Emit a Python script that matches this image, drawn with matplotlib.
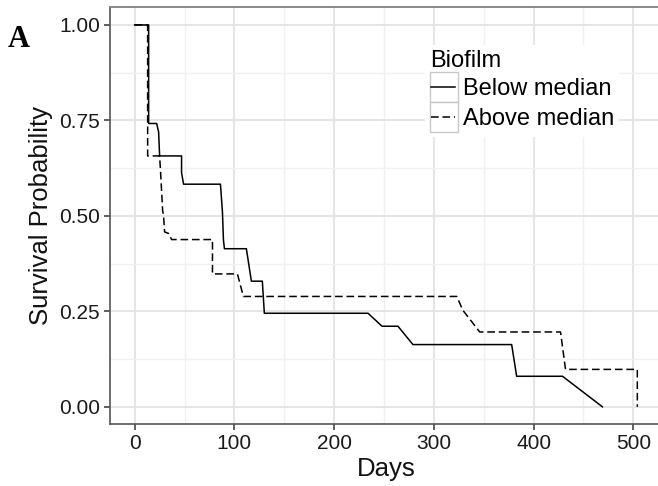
import numpy as np
import matplotlib
matplotlib.use('Agg')
import matplotlib.pyplot as plt
from matplotlib.legend_handler import HandlerBase
from matplotlib.patches import Rectangle
from matplotlib.lines import Line2D

# survival curves, vertices (days, probability)
below_days = [0, 14, 14, 22, 24, 25, 47, 47, 49, 86, 88, 89, 90, 112, 117,
              128, 130, 234, 248, 264, 279, 378, 383, 429, 469]
below_surv = [1.0, 1.0, 0.742, 0.742, 0.72, 0.657, 0.657, 0.613, 0.583, 0.583,
              0.51, 0.437, 0.414, 0.414, 0.329, 0.329, 0.245, 0.245, 0.211,
              0.211, 0.163, 0.163, 0.080, 0.080, 0.0]

above_days = [0, 13, 13, 25, 26, 28, 29, 30, 34, 37, 78, 78, 103, 109, 323,
              329, 346, 427, 432, 504, 504]
above_surv = [1.0, 1.0, 0.657, 0.657, 0.613, 0.515, 0.498, 0.458, 0.454, 0.438,
              0.438, 0.348, 0.348, 0.289, 0.289, 0.253, 0.196, 0.196, 0.098,
              0.098, 0.0]

group_labels = ['Below median', 'Above median']
x_ticks = [0, 100, 200, 300, 400, 500]
y_ticks = [0.0, 0.25, 0.5, 0.75, 1.0]
y_tick_labels = ['0.00', '0.25', '0.50', '0.75', '1.00']

DASH = (0, (5, 2.5))


class BoxedLine(HandlerBase):
    # ggplot-like legend key: grey box with the line inside
    def create_artists(self, legend, orig_handle, xdescent, ydescent,
                       width, height, fontsize, trans):
        box = Rectangle((-xdescent, -ydescent), width, height,
                        facecolor='white', edgecolor='#c8c8c8', lw=1.0,
                        transform=trans)
        y = -ydescent + height / 2
        line = Line2D([-xdescent + 1, -xdescent + width - 2], [y, y])
        line.update_from(orig_handle)
        line.set_transform(trans)
        return [box, line]


plt.rcParams['font.family'] = ['Liberation Sans', 'DejaVu Sans']

fig = plt.figure(figsize=(6.58, 4.86), dpi=100)
ax = fig.add_axes([109.5 / 658, 62 / 486, 554 / 658, 417 / 486])

h1, = ax.plot(below_days, below_surv, color='black', lw=1.1,
              label=group_labels[0])
h2, = ax.plot(above_days, above_surv, color='black', lw=1.1,
              linestyle=DASH, label=group_labels[1])

ax.set_xlim(-25.25, 530.25)
ax.set_ylim(-0.045, 1.047)
ax.set_xticks(x_ticks)
ax.set_xticks([50, 150, 250, 350, 450], minor=True)
ax.set_yticks(y_ticks)
ax.set_yticklabels(y_tick_labels)
ax.set_yticks([0.125, 0.375, 0.625, 0.875], minor=True)

ax.grid(which='major', color='#e3e3e3', lw=1.3)
ax.grid(which='minor', color='#f1f1f1', lw=1.0)
ax.set_axisbelow(True)

ax.tick_params(which='major', length=4, width=1.1, color='#333333',
               labelsize=15, labelcolor='#1a1a1a', pad=3)
ax.tick_params(which='minor', length=0)

for side in ['left', 'bottom']:
    ax.spines[side].set_color('#555555')
    ax.spines[side].set_linewidth(1.2)
ax.spines['top'].set_color('#8a8a8a')
ax.spines['top'].set_linewidth(1.4)
ax.spines['right'].set_visible(False)

ax.set_xlabel('Days', fontsize=18.5, color='#111111', labelpad=3)
ax.set_ylabel('Survival Probability', fontsize=18.5, color='#111111',
              labelpad=4.5)

leg = ax.legend(handles=[h1, h2], title='Biofilm', loc='upper left',
                bbox_to_anchor=(425 / 658, 1 - 45 / 486),
                bbox_transform=fig.transFigure,
                handler_map={Line2D: BoxedLine()},
                fontsize=17, title_fontsize=17, alignment='left',
                handlelength=1.2, handleheight=1.6, handletextpad=0.2,
                labelspacing=0, borderpad=0.2, borderaxespad=0,
                frameon=True, fancybox=False, framealpha=1,
                edgecolor='none', facecolor='white')

fig.text(8 / 658, 1 - 47 / 486, 'A', fontsize=22, fontweight='bold',
         family='Liberation Serif', ha='left', va='baseline')

fig.savefig('out.png', dpi=100)
